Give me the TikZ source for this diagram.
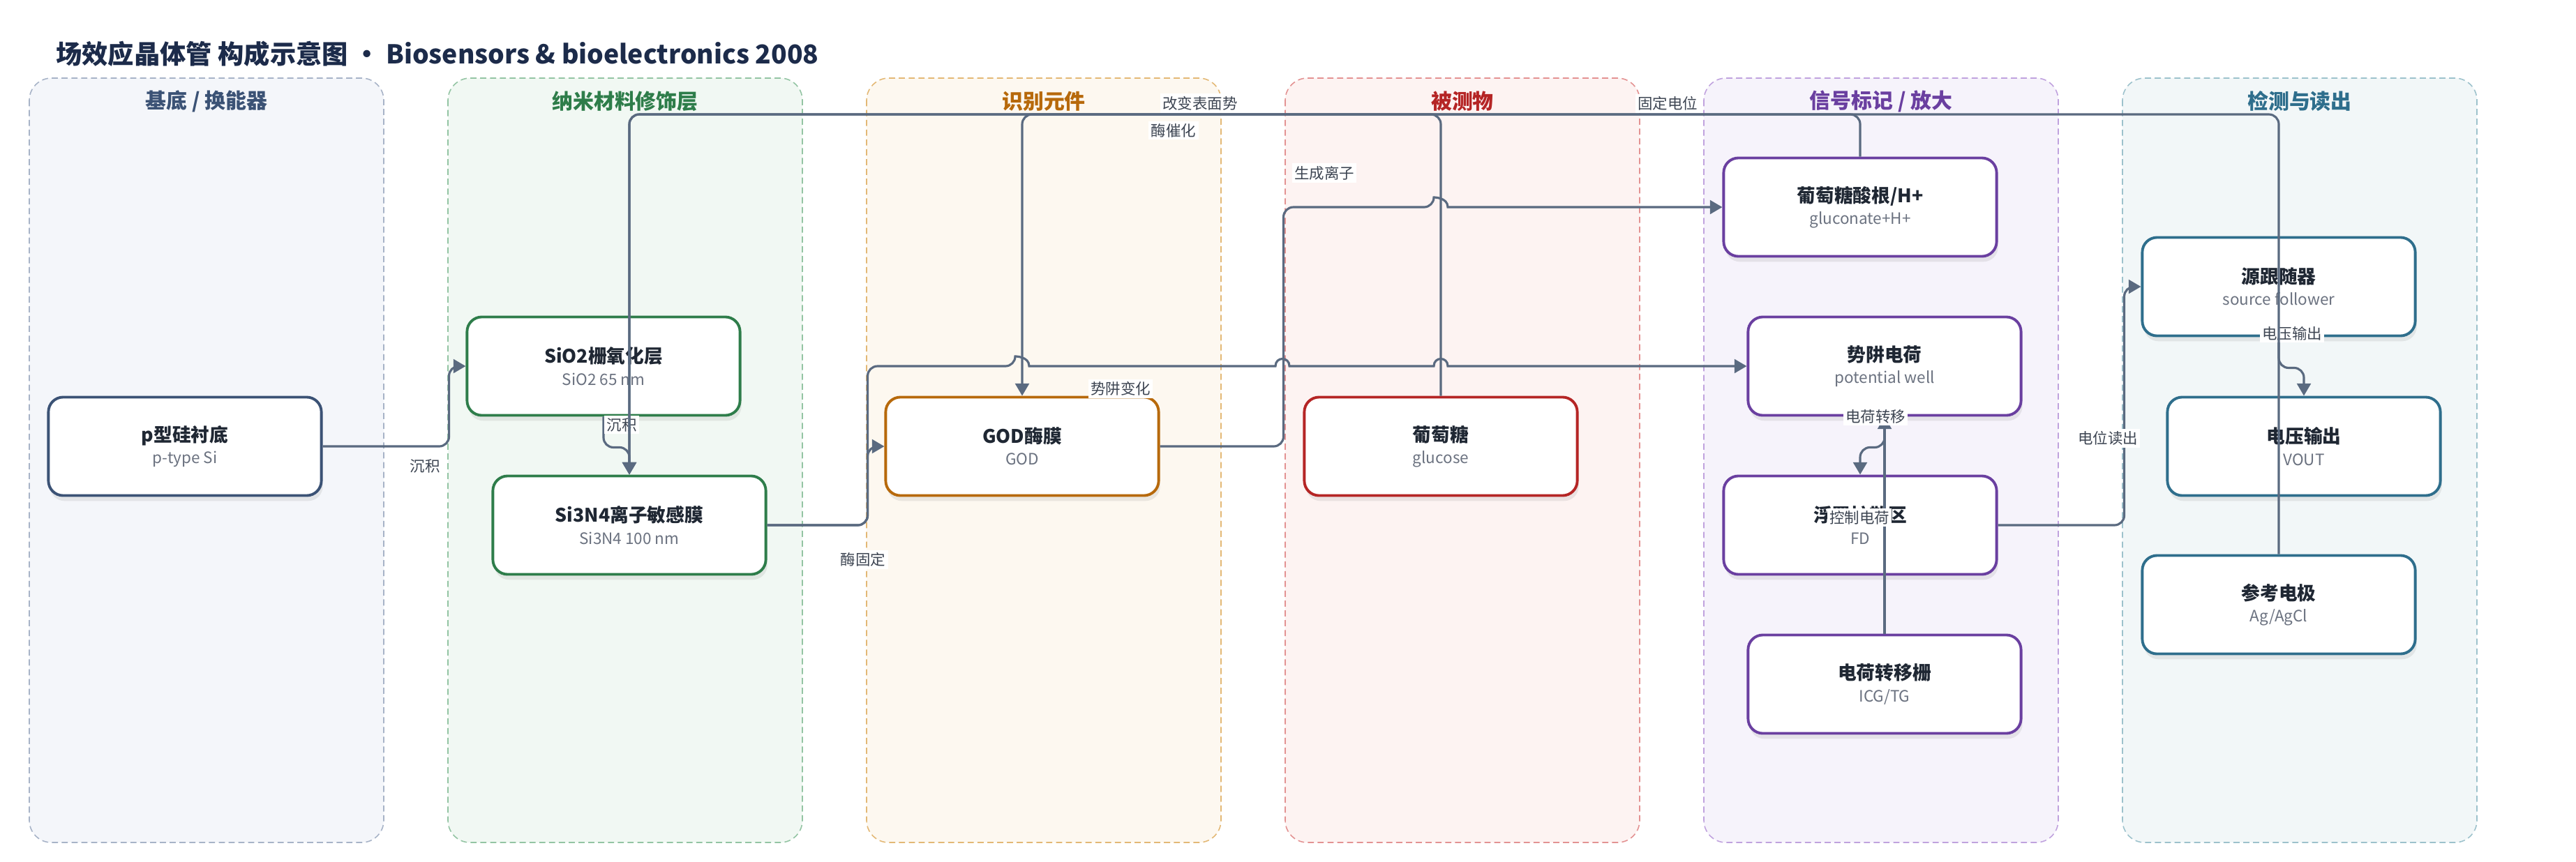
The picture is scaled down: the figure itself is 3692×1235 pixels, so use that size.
\documentclass[tikz,border=0pt]{standalone}
\usepackage{fontspec}
\setmainfont{Noto Sans CJK SC}
\usetikzlibrary{arrows.meta,shadows}

\definecolor{edgecol}{HTML}{5A6A80}
\definecolor{lblcol}{HTML}{3D4552}
\definecolor{subgray}{HTML}{6B7280}
\definecolor{titlecol}{HTML}{1C2B4A}
\definecolor{boxtxt}{HTML}{1F2733}
% lane colours: fill, dashed border, title
\definecolor{subF}{HTML}{F4F6FA}\definecolor{subD}{HTML}{A7B3C7}\definecolor{subT}{HTML}{3B5275}
\definecolor{nanoF}{HTML}{F1F8F3}\definecolor{nanoD}{HTML}{93C4A3}\definecolor{nanoT}{HTML}{2E7D4A}
\definecolor{recF}{HTML}{FDF8F0}\definecolor{recD}{HTML}{E3B875}\definecolor{recT}{HTML}{B7690B}
\definecolor{anaF}{HTML}{FDF3F2}\definecolor{anaD}{HTML}{E39292}\definecolor{anaT}{HTML}{B52525}
\definecolor{sigF}{HTML}{F6F3FB}\definecolor{sigD}{HTML}{C0A2DE}\definecolor{sigT}{HTML}{6A3FA0}
\definecolor{outF}{HTML}{F2F7F8}\definecolor{outD}{HTML}{9DC2CC}\definecolor{outT}{HTML}{2E6E8C}

\newcommand{\boxtext}[2]{{\bfseries\fontsize{7.6}{8.9}\selectfont\color{boxtxt}#1}\\{\fontsize{6.4}{8.9}\selectfont\color{subgray}#2}}

\begin{document}
\begin{tikzpicture}[x=0.01cm, y=-0.01cm]
\tikzstyle{lane} = [dash pattern=on 2.5pt off 1.5pt, line width=0.45pt, rounded corners=9pt]
\tikzstyle{lt} = [font=\bfseries\fontsize{8.5}{10}\selectfont]
\tikzstyle{box} = [draw, fill=white, line width=1.1pt, rounded corners=6pt, minimum width=3.91cm, minimum height=1.41cm, align=center, font=\fontsize{7}{8.9}\selectfont, drop shadow={shadow xshift=0.6pt, shadow yshift=-2.2pt, opacity=0.15}]
\tikzstyle{e} = [draw=edgecol, line width=0.9pt, rounded corners=4pt, -{Triangle[length=5pt, width=5.6pt]}]
\tikzstyle{lbl} = [fill=white, inner sep=1pt, text=lblcol, font=\fontsize{6.1}{7}\selectfont]

\useasboundingbox (0,0) rectangle (3692,1235);

\node[anchor=west, text=titlecol, font=\bfseries\fontsize{10.6}{12}\selectfont] (title) at (68,77) {场效应晶体管 构成示意图 • Biosensors \& bioelectronics 2008};

% lanes
\draw[lane, draw=subD, fill=subF] (42,112) rectangle (550,1208);
\draw[lane, draw=nanoD, fill=nanoF] (642,112) rectangle (1150,1208);
\draw[lane, draw=recD, fill=recF] (1242,112) rectangle (1750,1208);
\draw[lane, draw=anaD, fill=anaF] (1842,112) rectangle (2350,1208);
\draw[lane, draw=sigD, fill=sigF] (2442,112) rectangle (2950,1208);
\draw[lane, draw=outD, fill=outF] (3042,112) rectangle (3550,1208);
\node[lt, text=subT] (t1) at (296,145) {基底 / 换能器};
\node[lt, text=nanoT] (t2) at (896,145) {纳米材料修饰层};
\node[lt, text=recT] (t3) at (1496,145) {识别元件};
\node[lt, text=anaT] (t4) at (2096,145) {被测物};
\node[lt, text=sigT] (t5) at (2696,145) {信号标记 / 放大};
\node[lt, text=outT] (t6) at (3296,145) {检测与读出};

% boxes
\node[box, draw=subT] (psi) at (265,640) {\boxtext{p型硅衬底}{p-type Si}};
\node[box, draw=nanoT] (sio2) at (865,525) {\boxtext{SiO2栅氧化层}{SiO2 65 nm}};
\node[box, draw=nanoT] (si3n4) at (902,753) {\boxtext{Si3N4离子敏感膜}{Si3N4 100 nm}};
\node[box, draw=recT] (god) at (1465,640) {\boxtext{GOD酶膜}{GOD}};
\node[box, draw=anaT] (glu) at (2065,640) {\boxtext{葡萄糖}{glucose}};
\node[box, draw=sigT] (gluc) at (2666,297) {\boxtext{葡萄糖酸根/H+}{gluconate+H+}};
\node[box, draw=sigT] (well) at (2701,525) {\boxtext{势阱电荷}{potential well}};
\node[box, draw=sigT] (fd) at (2666,753) {\boxtext{浮置扩散区}{FD}};
\node[box, draw=sigT] (tg) at (2701,981) {\boxtext{电荷转移栅}{ICG/TG}};
\node[box, draw=outT] (sf) at (3266,411) {\boxtext{源跟随器}{source follower}};
\node[box, draw=outT] (vout) at (3302,640) {\boxtext{电压输出}{VOUT}};
\node[box, draw=outT] (ref) at (3266,867) {\boxtext{参考电极}{Ag/AgCl}};

\coordinate (top) at (0,164);

% connectors
\draw[e] (psi.east) -- ++(181,0) |- (sio2.west);
\node[lbl] at (609,668) {沉积};
\draw[e] (sio2.south) -- ++(0,44) -| (si3n4.north);
\node[lbl] at (891,609) {沉积};
\draw[e] (sf.south) -- ++(0,44) -| (vout.north);
\node[lbl] at (3285,478) {电压输出};
\draw[e] (gluc.north) -- (gluc.north |- top) -| (si3n4.north);
\node[lbl] at (1720,148) {改变表面势};
\draw[e] (glu.north) -- (glu.north |- top) -| (god.north);
\node[lbl] at (1682,187) {酶催化};
\draw[e] (god.east) -- ++(177,0) |- (2055,297) [sharp corners] .. controls (2055,283) and (2075,283) .. (2075,297) -- (gluc.west);
\node[lbl] at (1898,248) {生成离子};
\draw[e] (si3n4.east) -- ++(144,0) |- (god.west);
\node[lbl] at (1237,802) {酶固定};
\draw[e] (si3n4.east) -- ++(144,0) |- (1455,525) [sharp corners] .. controls (1455,511) and (1475,511) .. (1475,525) -- (1828,525) .. controls (1828,511) and (1848,511) .. (1848,525) -- (2055,525) .. controls (2055,511) and (2075,511) .. (2075,525) -- (well.west);
\node[lbl] at (1606,557) {势阱变化};
\draw[e] (tg.north) -- (well.south);
\node[lbl] at (2665,742) {控制电荷};
\draw[e] (well.south) -- ++(0,44) -| (fd.north);
\node[lbl] at (2688,597) {电荷转移};
\draw[e] (fd.east) -- ++(181,0) |- (sf.west);
\node[lbl] at (3021,628) {电位读出};
\draw[e] (ref.north) -- (ref.north |- top) -| (si3n4.north);
\node[lbl] at (2390,148) {固定电位};
\end{tikzpicture}
\end{document}
